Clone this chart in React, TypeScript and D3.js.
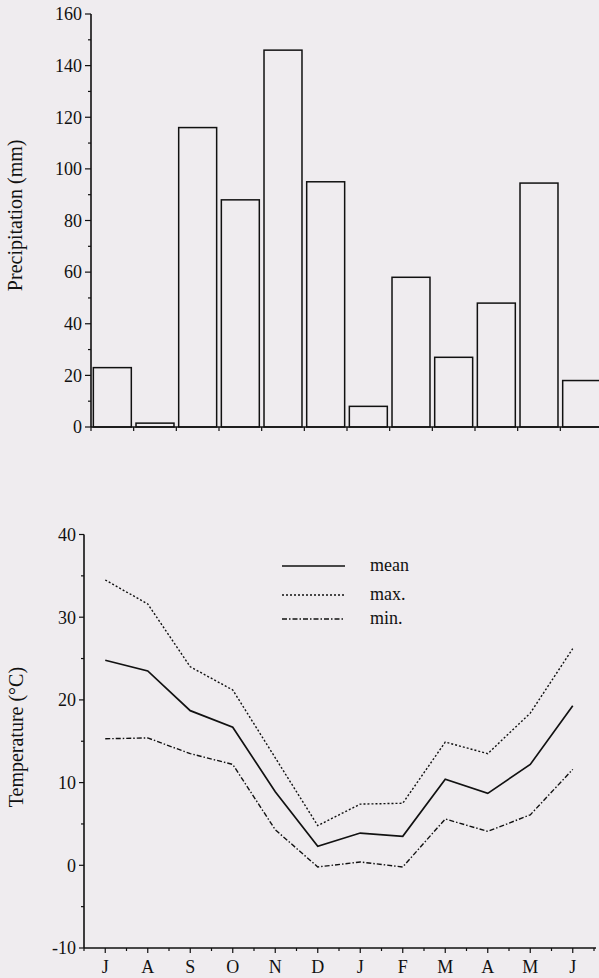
import React, { useEffect } from "react";
import { scaleBand, scaleLinear, scalePoint, line, range } from "d3";

const months = ["J", "A", "S", "O", "N", "D", "J", "F", "M", "A", "M", "J"];
const precipitation = [23, 1.5, 116, 88, 146, 95, 8, 58, 27, 48, 94.5, 18];
const tempMean = [24.8, 23.5, 18.7, 16.7, 8.9, 2.3, 3.9, 3.5, 10.4, 8.7, 12.2, 19.3];
const tempMax = [34.5, 31.6, 24.0, 21.2, 13.0, 4.8, 7.4, 7.5, 14.9, 13.5, 18.4, 26.2];
const tempMin = [15.3, 15.4, 13.5, 12.2, 4.3, -0.2, 0.4, -0.2, 5.6, 4.1, 6.1, 11.6];
const precipTicks = [0, 20, 40, 60, 80, 100, 120, 140, 160];
const tempTicks = [-10, 0, 10, 20, 30, 40];

const BG = "#efecef";
const FONT = '"Liberation Serif", "Times New Roman", Times, "DejaVu Serif", serif';

const App = () => {
  useEffect(() => {
    document.body.style.margin = "0";
    document.body.style.background = BG;
  }, []);

  // precipitation panel
  const idx = months.map((_, i) => i);
  const xBar = scaleBand<number>().domain(idx).range([91, 603]).paddingInner(0.11).paddingOuter(0.055);
  const yPrec = scaleLinear().domain([0, 160]).range([427, 14]);
  const step = xBar.step();
  const gap = step * 0.11 / 2;

  // temperature panel
  const xT = scalePoint<number>().domain(idx).range([84, 594]).padding(0.5);
  const yT = scaleLinear().domain([-10, 40]).range([948, 534.5]);
  const tStep = xT.step();
  const mk = (vals: number[]) =>
    line<number>().x((_, i) => xT(i) as number).y((d) => yT(d))(vals) || "";

  const legend = [
    { label: "mean", dash: undefined, y: 566 },
    { label: "max.", dash: "2,2", y: 595 },
    { label: "min.", dash: "5,2,1.5,2", y: 619 },
  ];

  return (
    <svg width={599} height={978} style={{ display: "block", background: BG, fontFamily: FONT }}>
      {/* ---- Precipitation ---- */}
      <g>
        {precipitation.map((v, i) => (
          <rect key={i} x={xBar(i)} y={yPrec(v)} width={xBar.bandwidth()} height={yPrec(0) - yPrec(v)}
            fill="none" stroke="#111" strokeWidth={1.5} />
        ))}
        <line x1={91} x2={603} y1={yPrec(0)} y2={yPrec(0)} stroke="#111" strokeWidth={1.6} />
        <line x1={91} x2={91} y1={yPrec(0)} y2={yPrec(160)} stroke="#111" strokeWidth={1.6} />
        {range(0, 13).map((k) => {
          const x = (xBar(0) as number) - gap + k * step;
          return <line key={k} x1={x} x2={x} y1={yPrec(0)} y2={yPrec(0) + 4} stroke="#111" strokeWidth={1.2} />;
        })}
        {range(0, 161, 10).map((t) => (
          <line key={t} x1={t % 20 === 0 ? 85 : 88} x2={91} y1={yPrec(t)} y2={yPrec(t)} stroke="#111" strokeWidth={1.2} />
        ))}
        {precipTicks.map((t) => (
          <text key={t} x={82} y={yPrec(t)} dy="0.35em" textAnchor="end" fontSize={18} fill="#111">{t}</text>
        ))}
        <text transform={`translate(17,${yPrec(82)}) rotate(-90)`} textAnchor="middle" dominantBaseline="middle"
          fontSize={20} fill="#111">Precipitation (mm)</text>
      </g>

      {/* ---- Temperature ---- */}
      <g>
        <line x1={84} x2={84} y1={yT(-10)} y2={yT(40)} stroke="#111" strokeWidth={1.6} />
        <line x1={84} x2={596} y1={yT(-10)} y2={yT(-10)} stroke="#111" strokeWidth={1.6} />
        {range(-10, 41, 5).map((t) => (
          <line key={t} x1={t % 10 === 0 ? 79 : 81} x2={84} y1={yT(t)} y2={yT(t)} stroke="#111" strokeWidth={1.2} />
        ))}
        {tempTicks.map((t) => (
          <text key={t} x={76} y={yT(t)} dy="0.35em" textAnchor="end" fontSize={18} fill="#111">{t}</text>
        ))}
        {range(0, 13).map((k) => {
          const x = 84 + k * tStep;
          return <line key={"m" + k} x1={x} x2={x} y1={yT(-10)} y2={yT(-10) + 3} stroke="#111" strokeWidth={1.2} />;
        })}
        {months.map((m, i) => (
          <g key={i}>
            <line x1={xT(i)} x2={xT(i)} y1={yT(-10)} y2={yT(-10) + 5} stroke="#111" strokeWidth={1.2} />
            <text x={xT(i)} y={973} textAnchor="middle" fontSize={18} fill="#111">{m}</text>
          </g>
        ))}
        <path d={mk(tempMax)} fill="none" stroke="#111" strokeWidth={1.4} strokeDasharray="2,2" />
        <path d={mk(tempMin)} fill="none" stroke="#111" strokeWidth={1.4} strokeDasharray="5,2,1.5,2" />
        <path d={mk(tempMean)} fill="none" stroke="#111" strokeWidth={1.7} />
        {legend.map((l) => (
          <g key={l.label}>
            <line x1={282} x2={345} y1={l.y} y2={l.y} stroke="#111" strokeWidth={l.dash ? 1.4 : 1.7}
              strokeDasharray={l.dash} />
            <text x={370} y={l.y} dy="0.3em" fontSize={18} fill="#111">{l.label}</text>
          </g>
        ))}
        <text transform={`translate(18,${yT(15.5)}) rotate(-90)`} textAnchor="middle" dominantBaseline="middle"
          fontSize={20} fill="#111">Temperature (°C)</text>
      </g>
    </svg>
  );
};

export default App;
